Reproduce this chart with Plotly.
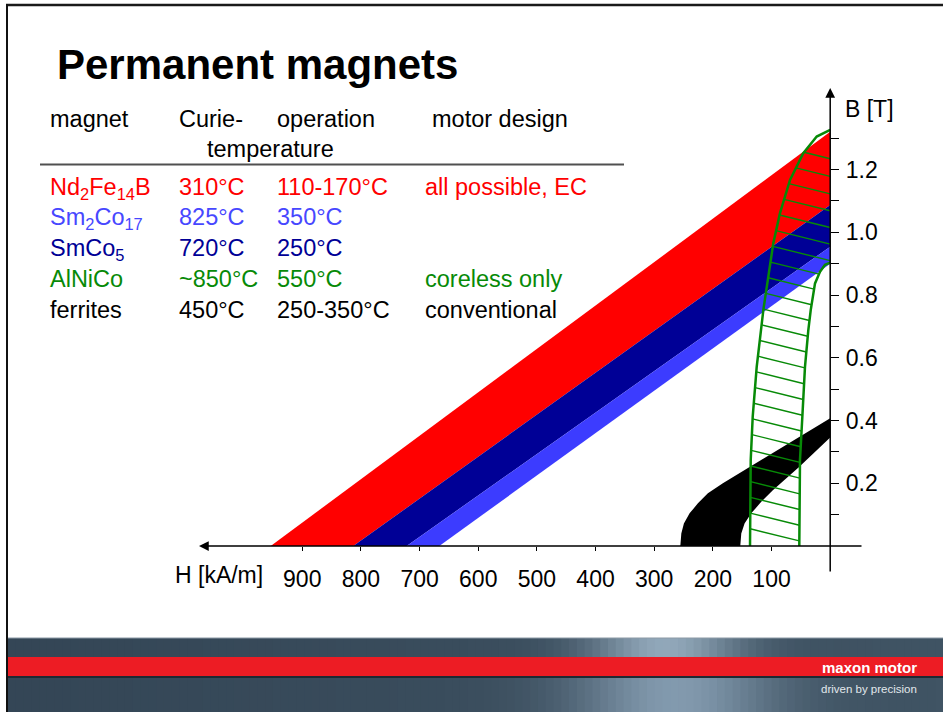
import numpy as np
import plotly.graph_objects as go

# ---------------- data ----------------
H_TICK_VALUES = [100, 200, 300, 400, 500, 600, 700, 800, 900]
H_TICK_TEXT = ["100", "200", "300", "400", "500", "600", "700", "800", "900"]
B_TICK_VALUES = [0.1, 0.2, 0.3, 0.4, 0.5, 0.6, 0.7, 0.8, 0.9, 1.0, 1.1, 1.2, 1.3]
B_TICK_TEXT = ["", "0.2", "", "0.4", "", "0.6", "", "0.8", "", "1.0", "", "1.2", ""]

# straight demagnetisation lines: (coercivity H at B=0 [kA/m], remanence B at H=0 [T])
ndfeb_upper = (953.8, 1.32)
ndfeb_lower = (813.0, 1.087)
smco5_lower = (722.0, 0.954)
sm2co17_lower = (666.4, 0.90)

# ferrites band (outer / inner edge)
ferrite_outer_H = [255.5, 253.8, 249.4, 239.7, 225.5, 208.5, 183.0, 0.0]
ferrite_outer_B = [0.0, 0.040, 0.072, 0.104, 0.136, 0.168, 0.200, 0.407]
ferrite_inner_H = [0.0, 53.5, 97.8, 117.5, 134.6, 146.0, 151.6, 153.3]
ferrite_inner_B = [0.346, 0.251, 0.178, 0.141, 0.104, 0.072, 0.040, 0.0]

# AlNiCo region (left and right boundary, B ascending)
alnico_left_H = [136.7, 135.5, 132.1, 125.3, 114.0, 97.0, 85.6, 68.5, 45.9, 23.0, 0.0]
alnico_left_B = [0.0, 0.274, 0.412, 0.571, 0.752, 0.965, 1.061, 1.167, 1.252, 1.305, 1.326]
alnico_right_H = [52.7, 51.5, 47.5, 43.0, 37.3, 33.2, 25.9, 17.4, 8.9, 0.0]
alnico_right_B = [0.0, 0.274, 0.412, 0.571, 0.688, 0.752, 0.837, 0.874, 0.896, 0.903]

# table
table_header = ["magnet", "Curie-", "operation", "motor design"]
table_names = ["Nd<sub>2</sub>Fe<sub>14</sub>B", "Sm<sub>2</sub>Co<sub>17</sub>",
               "SmCo<sub>5</sub>", "AlNiCo", "ferrites"]
table_curie = ["310°C", "825°C", "720°C", "~850°C", "450°C"]
table_operation = ["110-170°C", "350°C", "250°C", "550°C", "250-350°C"]
table_design = ["all possible, EC", "", "", "coreless only", "conventional"]

# ---------------- style ----------------
RED = "#ff0000"
NAVY = "#000096"
LBLUE = "#3c3cff"
LBLUE_TXT = "#4747ff"
GREEN = "#078a07"
FONT = "Liberation Sans, Arial, sans-serif"
row_colors = [RED, LBLUE_TXT, NAVY, GREEN, "black"]

W, HPX = 943, 712
X0_PX, PX_PER_H = 830.2, 0.5866
Y0_PX, PX_PER_B = 546.0, 313.75
x_range = [X0_PX / PX_PER_H, -(W - X0_PX) / PX_PER_H]
y_range = [-(HPX - Y0_PX) / PX_PER_B, Y0_PX / PX_PER_B]


def band(upper, lower):
    hs = [upper[0], 0, 0, lower[0], upper[0]]
    bs = [0, upper[1], lower[1], 0, 0]
    return hs, bs


fig = go.Figure()
for (up, lo, col) in [(ndfeb_upper, ndfeb_lower, RED),
                      (ndfeb_lower, smco5_lower, NAVY),
                      (smco5_lower, sm2co17_lower, LBLUE)]:
    hs, bs = band(up, lo)
    fig.add_trace(go.Scatter(x=hs, y=bs, mode="lines", fill="toself",
                             fillcolor=col, line=dict(width=0, color=col),
                             hoverinfo="skip", showlegend=False))

# ferrites
fer_H = ferrite_outer_H + ferrite_inner_H + [ferrite_outer_H[0]]
fer_B = ferrite_outer_B + ferrite_inner_B + [ferrite_outer_B[0]]
fig.add_trace(go.Scatter(x=fer_H, y=fer_B, mode="lines", fill="toself",
                         fillcolor="black", line=dict(width=0, color="black"),
                         hoverinfo="skip", showlegend=False))

# AlNiCo hatching
HATCH_SLOPE = 0.000463
hatch_levels = [0.055 + 0.05 * i for i in range(25)]


def right_edge(b):
    if b >= alnico_right_B[-1]:
        return 0.0
    return float(np.interp(b, alnico_right_B, alnico_right_H))


hx, hy = [], []
for b in hatch_levels:
    hl = float(np.interp(b, alnico_left_B, alnico_left_H))
    line_b = lambda h: b - HATCH_SLOPE * (hl - h)
    lo_h, hi_h = 0.0, hl
    for _ in range(50):
        mid = 0.5 * (lo_h + hi_h)
        if mid - right_edge(line_b(mid)) > 0:
            hi_h = mid
        else:
            lo_h = mid
    he = hi_h
    if line_b(he) < 0:
        continue
    hx += [hl, he, None]
    hy += [b, line_b(he), None]
fig.add_trace(go.Scatter(x=hx, y=hy, mode="lines", line=dict(color=GREEN, width=1.4),
                         hoverinfo="skip", showlegend=False))
fig.add_trace(go.Scatter(x=alnico_left_H + [None] + alnico_right_H,
                         y=alnico_left_B + [None] + alnico_right_B,
                         mode="lines", line=dict(color=GREEN, width=2.5),
                         hoverinfo="skip", showlegend=False))

# ---------------- annotations ----------------
ann = []


def px_x(x):
    return x / W


def px_y(y):
    return 1 - y / HPX


def text_at(x_left, baseline, txt, size, color="black", bold=False, family=FONT):
    top = baseline - 0.905 * size - 2
    t = "<b>" + txt + "</b>" if bold else txt
    ann.append(dict(x=px_x(x_left - 3), y=px_y(top), xref="paper", yref="paper",
                    xanchor="left", yanchor="top", text=t, showarrow=False,
                    font=dict(family=family, size=size, color=color)))


text_at(58, 79, "Permanent magnets", 42, bold=True)

TS = 23.5
col_x = [51, 180, 278, 426]
head_x = [51, 180, 278, 433]
for x, t in zip(head_x, table_header):
    text_at(x, 127, t, TS)
text_at(208, 157, "temperature", TS)
row_base = [195, 225.5, 256, 287, 318]
for i in range(5):
    for x, t in zip(col_x, [table_names[i], table_curie[i], table_operation[i], table_design[i]]):
        if t:
            text_at(x, row_base[i], t, TS, color=row_colors[i])

text_at(846, 117, "B [T]", 23)
text_at(176, 583, "H [kA/m]", 23)

# axis arrows
ann.append(dict(x=0, y=(Y0_PX - 88) / PX_PER_B, ax=0, ay=(Y0_PX - 573) / PX_PER_B,
                xref="x", yref="y", axref="x", ayref="y", text="", showarrow=True,
                arrowhead=2, arrowsize=1.3, arrowwidth=1.5, arrowcolor="black"))
ann.append(dict(x=(X0_PX - 199) / PX_PER_H, y=0, ax=(X0_PX - 863) / PX_PER_H, ay=0,
                xref="x", yref="y", axref="x", ayref="y", text="", showarrow=True,
                arrowhead=2, arrowsize=1.3, arrowwidth=1.5, arrowcolor="black"))

# banner texts
ann.append(dict(x=px_x(919), y=px_y(667), xref="paper", yref="paper", xanchor="right",
                yanchor="middle", text="<b>maxon motor</b>", showarrow=False,
                font=dict(family=FONT, size=15, color="white")))
ann.append(dict(x=px_x(919), y=px_y(689), xref="paper", yref="paper", xanchor="right",
                yanchor="middle", text="driven by precision", showarrow=False,
                font=dict(family=FONT, size=11.5, color="#e2e8ec")))

# ---------------- shapes (slide decoration) ----------------
shapes = []


def rect(x0, y0, x1, y1, color):
    shapes.append(dict(type="rect", xref="paper", yref="paper", x0=px_x(x0), x1=px_x(x1),
                       y0=px_y(y1), y1=px_y(y0), fillcolor=color, line=dict(width=0),
                       layer="above"))


def steel(x, center, sigma, amp):
    g = np.exp(-((x - center) / sigma) ** 2)
    t = x / W
    base = np.array([52, 70, 86]) * (1 - t) + np.array([64, 84, 100]) * t
    c = base + np.array(amp) * g
    return "rgb(%d,%d,%d)" % tuple(np.clip(c, 0, 255))


N = 120
xs = np.linspace(8, W, N + 1)
for i in range(N):
    xc = 0.5 * (xs[i] + xs[i + 1])
    x_end = min(W, xs[i + 1] + 3)
    rect(xs[i], 638, x_end, 657, steel(xc, 665, 75, [85, 88, 90]))
    rect(xs[i], 678, x_end, 712, steel(xc, 675, 100, [70, 74, 78]))
rect(8, 637.5, W, 638.6, "#8c9aa6")
rect(8, 657, W, 676, "#ed1c24")
rect(8, 676, W, 678, "#1f2933")

shapes.append(dict(type="line", xref="paper", yref="paper", x0=px_x(6), x1=1,
                   y0=px_y(5), y1=px_y(5), line=dict(color="#1a1a1a", width=2.5), layer="above"))
shapes.append(dict(type="line", xref="paper", yref="paper", x0=px_x(7), x1=px_x(7),
                   y0=px_y(4), y1=0, line=dict(color="#111111", width=2), layer="above"))
shapes.append(dict(type="line", xref="paper", yref="paper", x0=px_x(40), x1=px_x(624),
                   y0=px_y(164.5), y1=px_y(164.5), line=dict(color="#505050", width=2)))

fig.update_layout(
    width=W, height=HPX, autosize=False,
    margin=dict(l=0, r=0, t=0, b=0, pad=0),
    paper_bgcolor="white", plot_bgcolor="white",
    showlegend=False,
    xaxis=dict(range=x_range, domain=[0, 1], anchor="free", position=1 - Y0_PX / HPX,
               side="bottom", showgrid=False, zeroline=False, showline=False,
               ticks="outside", ticklen=4, tickwidth=1, tickcolor="black",
               tickvals=H_TICK_VALUES, ticktext=H_TICK_TEXT, ticklabelstandoff=8,
               tickfont=dict(family=FONT, size=23, color="black"), fixedrange=True),
    yaxis=dict(range=y_range, domain=[0, 1], anchor="free", position=X0_PX / W,
               side="right", showgrid=False, zeroline=False, showline=False,
               ticks="outside", ticklen=8, tickwidth=1, tickcolor="black",
               tickvals=B_TICK_VALUES, ticktext=B_TICK_TEXT, ticklabelstandoff=2,
               tickfont=dict(family=FONT, size=23, color="black"), fixedrange=True),
    annotations=ann,
    shapes=shapes,
)

fig.write_html("out.html", config={"displayModeBar": False},
               post_script="document.body.style.margin='0';")
